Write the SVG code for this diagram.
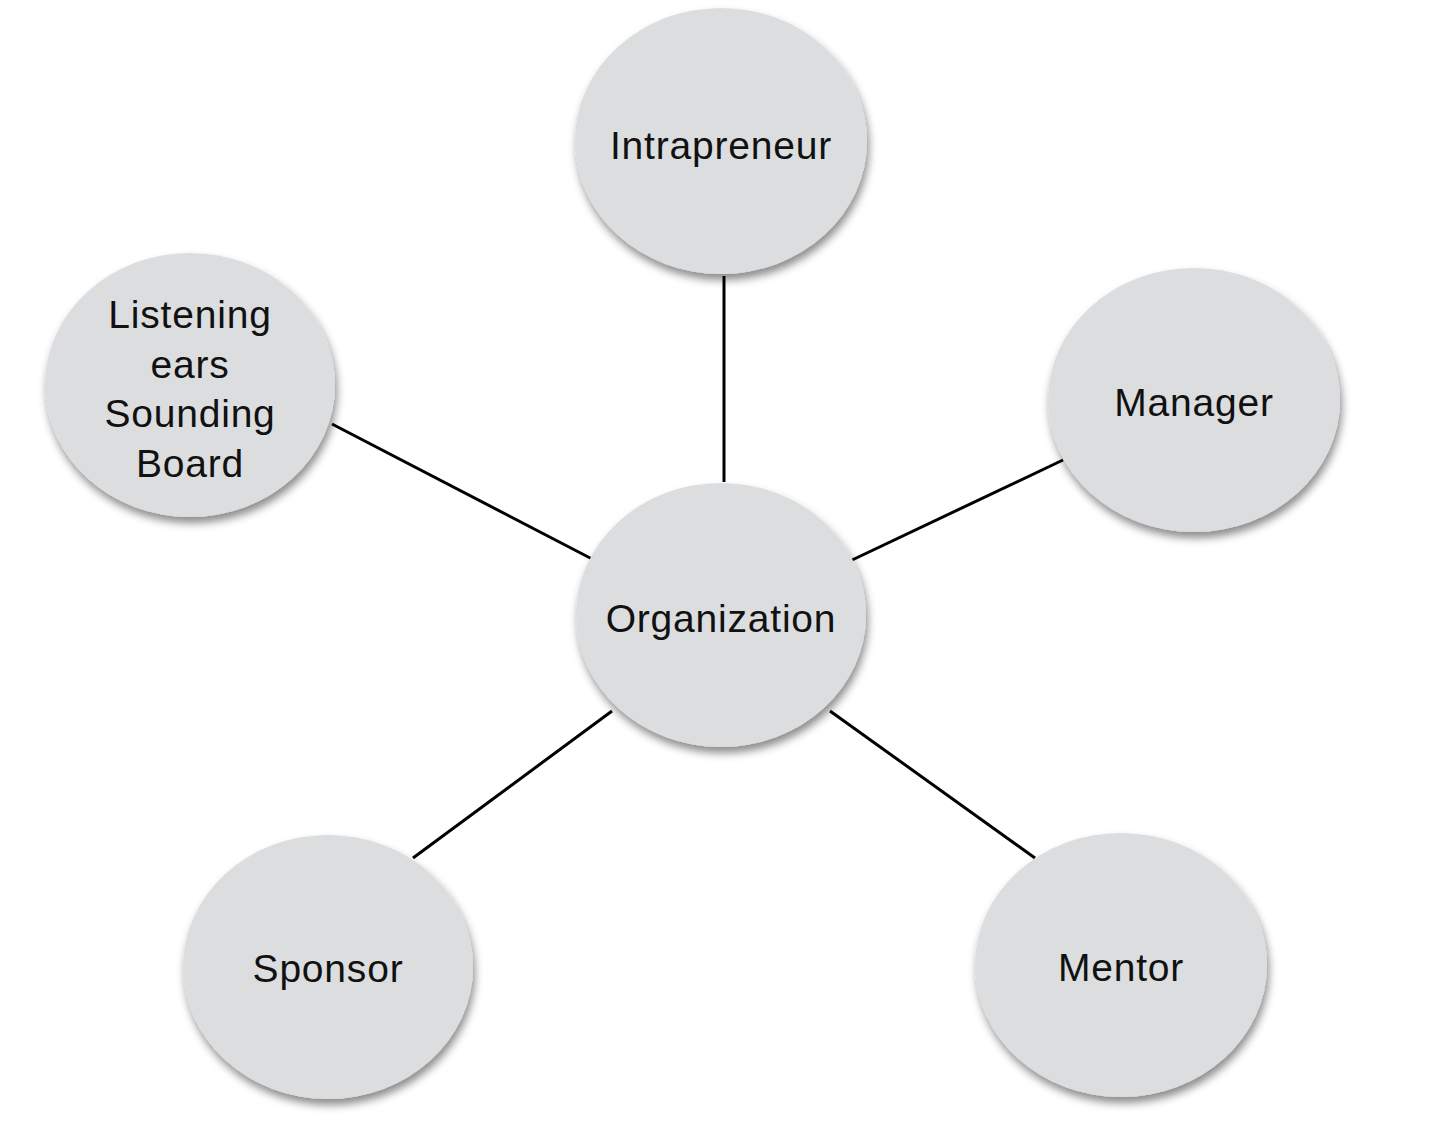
<svg xmlns="http://www.w3.org/2000/svg" width="1430" height="1146" viewBox="0 0 1430 1146">
<style>
.node{fill:#dcdddf;filter:url(#sh);}
.lbl{font-family:"Liberation Sans",Arial,sans-serif;font-size:39px;fill:#111;text-anchor:middle;letter-spacing:0.8px;}
.edge{stroke:#000;stroke-width:3;fill:none;}
</style>
<defs>
<filter id="sh" x="-20%" y="-20%" width="140%" height="140%">
<feDropShadow dx="2" dy="6" stdDeviation="4" flood-color="#000" flood-opacity="0.45"/>
</filter>
</defs>
<rect width="1430" height="1146" fill="#fff"/>
<g id="connectors">
<line class="edge" x1="724" y1="276" x2="724" y2="482"/>
<line class="edge" x1="332" y1="424" x2="594" y2="560"/>
<line class="edge" x1="850" y1="561" x2="1063" y2="460"/>
<line class="edge" x1="413" y1="858" x2="612" y2="711"/>
<line class="edge" x1="830" y1="711" x2="1035" y2="858"/>
</g>
<g id="intrapreneur"><ellipse class="node" cx="721" cy="141" rx="146" ry="133"/><text class="lbl" x="721" y="159">Intrapreneur</text></g>
<g id="listening"><ellipse class="node" cx="190" cy="385" rx="145" ry="132"/>
<text class="lbl" x="190" y="328">Listening</text><text class="lbl" x="190" y="378">ears</text><text class="lbl" x="190" y="427">Sounding</text><text class="lbl" x="190" y="477">Board</text></g>
<g id="manager"><ellipse class="node" cx="1194" cy="400" rx="146" ry="132"/><text class="lbl" x="1194" y="416">Manager</text></g>
<g id="organization"><ellipse class="node" cx="721" cy="615" rx="145" ry="132"/><text class="lbl" x="721" y="632">Organization</text></g>
<g id="sponsor"><ellipse class="node" cx="328" cy="967" rx="145" ry="132"/><text class="lbl" x="328" y="982">Sponsor</text></g>
<g id="mentor"><ellipse class="node" cx="1121" cy="965" rx="146" ry="132"/><text class="lbl" x="1121" y="981">Mentor</text></g>
</svg>
